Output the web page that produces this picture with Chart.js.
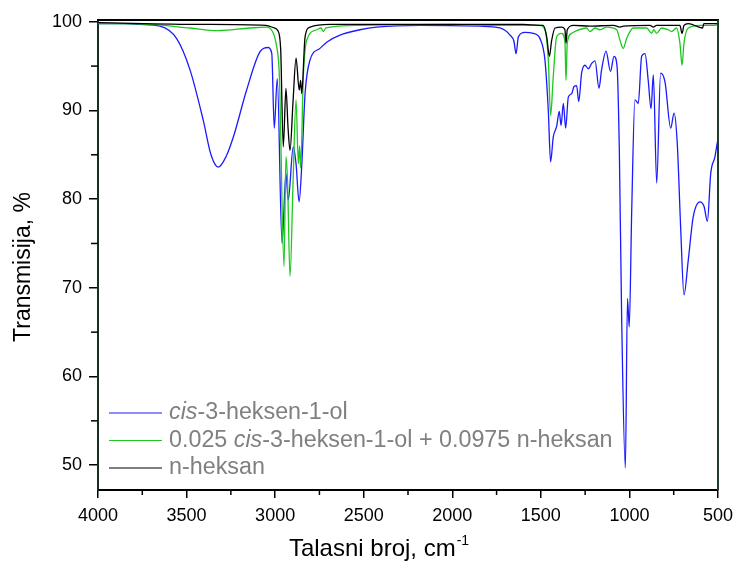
<!DOCTYPE html>
<html>
<head>
<meta charset="utf-8">
<script src="https://cdn.jsdelivr.net/npm/chart.js@4/dist/chart.umd.min.js"></script>
<style>
  body { margin: 0; background: #fff; }
  #wrap { width: 741px; height: 565px; position: relative; }
</style>
</head>
<body>
<div id="wrap"><canvas id="Ir-Chart"></canvas></div>
<script>
// spectra: wavenumber (cm-1) and transmission (%)
var seriesLabels = ['cis-3-heksen-1-ol', '0.025 cis-3-heksen-1-ol + 0.0975 n-heksan', 'n-heksan'];
var seriesColors = ['#1a1aff', '#1ec81e', '#000000'];

var cisWn = [4000, 3850, 3763, 3650, 3556, 3481, 3406, 3362, 3321, 3277, 3236, 3161, 3086, 3039, 3019, 3005, 2988, 2961, 2939, 2926, 2898, 2882, 2865, 2850, 2831, 2803, 2747, 2709, 2634, 2521, 2427, 2182, 1844, 1731, 1674, 1652, 1640, 1627, 1590, 1543, 1505, 1477, 1458, 1445, 1430, 1411, 1396, 1386, 1373, 1360, 1345, 1326, 1313, 1298, 1286, 1270, 1251, 1232, 1213, 1194, 1172, 1157, 1132, 1107, 1087, 1070, 1057, 1044, 1023, 1011, 1001, 987, 969, 950, 931, 912, 894, 878, 865, 846, 824, 799, 767, 748, 730, 711, 692, 668, 640, 602, 579, 560, 541, 517, 503];
var cisT = [99.8, 99.8, 99.7, 99.5, 98.1, 94.6, 88.9, 85.0, 83.6, 84.8, 87.0, 92.3, 96.6, 97.1, 96.4, 88.0, 93.6, 75.0, 82.9, 79.9, 85.9, 84.0, 79.7, 83.7, 91.9, 95.7, 97.0, 97.7, 98.5, 99.1, 99.4, 99.6, 99.5, 99.3, 98.5, 97.8, 96.4, 98.3, 98.8, 98.7, 98.1, 95.7, 90.0, 84.2, 87.0, 88.2, 89.9, 88.3, 90.8, 88.0, 91.5, 91.9, 92.7, 92.8, 91.0, 94.2, 95.1, 94.7, 95.3, 95.6, 92.5, 94.6, 96.7, 94.4, 96.1, 95.0, 85.5, 66.8, 49.7, 68.8, 65.6, 78.8, 91.2, 90.8, 96.1, 96.4, 93.4, 90.2, 94.0, 81.8, 94.2, 93.2, 88.0, 89.7, 86.3, 76.9, 69.2, 73.1, 78.0, 79.7, 79.2, 77.5, 82.9, 84.8, 86.5];

var mixWn = [4000, 3706, 3481, 3323, 3142, 3048, 3015, 2995, 2976, 2950, 2939, 2930, 2916, 2898, 2882, 2869, 2862, 2856, 2841, 2822, 2765, 2741, 2728, 2713, 2521, 2000, 1844, 1505, 1477, 1458, 1445, 1430, 1411, 1383, 1364, 1358, 1351, 1326, 1298, 1242, 1223, 1194, 1166, 1129, 1072, 1053, 1035, 1016, 978, 903, 875, 862, 847, 818, 781, 762, 734, 715, 703, 692, 668, 600, 525, 500];
var mixT = [99.8, 99.7, 99.3, 99.0, 99.3, 99.4, 98.9, 97.6, 93.8, 72.4, 84.8, 82.0, 71.3, 82.5, 91.2, 84.0, 86.0, 83.5, 93.8, 97.9, 99.1, 99.3, 98.9, 99.3, 99.6, 99.7, 99.6, 99.6, 99.1, 95.7, 89.4, 93.8, 98.3, 98.7, 97.7, 93.4, 97.6, 98.7, 99.0, 99.3, 98.9, 99.3, 99.1, 99.4, 99.1, 97.9, 97.0, 98.1, 99.3, 99.3, 98.7, 99.1, 98.7, 99.3, 99.1, 98.9, 99.3, 97.6, 95.1, 97.6, 99.3, 99.6, 99.6, 99.7];

var hexWn = [4000, 3419, 3052, 3005, 2985, 2969, 2954, 2939, 2927, 2916, 2899, 2882, 2864, 2856, 2850, 2831, 2803, 2690, 1600, 1505, 1487, 1467, 1452, 1439, 1420, 1383, 1364, 1358, 1351, 1317, 1223, 1091, 1053, 1035, 884, 865, 847, 715, 703, 692, 668, 587, 580, 500];
var hexT = [99.9, 99.7, 99.6, 99.3, 99.0, 97.0, 85.9, 92.5, 88.0, 85.5, 91.0, 95.9, 92.3, 93.4, 91.9, 98.3, 99.4, 99.7, 99.7, 99.6, 99.6, 98.3, 96.1, 97.9, 99.3, 99.4, 99.1, 97.6, 99.1, 99.6, 99.5, 99.6, 99.4, 99.5, 99.6, 99.4, 99.6, 99.6, 98.7, 99.6, 99.8, 99.3, 99.8, 99.8];

var xTickValues = [4000, 3500, 3000, 2500, 2000, 1500, 1000, 500];
var xMinorValues = [3750, 3250, 2750, 2250, 1750, 1250, 750];
var yTickValues = [50, 60, 70, 80, 90, 100];
var yMinorValues = [55, 65, 75, 85, 95];

var FONT = '"Liberation Sans", Arial, sans-serif';

function points(wn, t) {
    return wn.map(function (w, i) { return { x: w, y: t[i] }; });
}

function line(ctx, x1, y1, x2, y2) {
    ctx.beginPath();
    ctx.moveTo(x1, y1);
    ctx.lineTo(x2, y2);
    ctx.stroke();
}

// minor ticks, top/right frame, titles and the legend
var decor = {
    id: 'decor',
    afterDraw: function (chart) {
        var ctx = chart.ctx, a = chart.chartArea;
        var xs = chart.scales.x, ys = chart.scales.y;
        ctx.save();

        ctx.lineWidth = 2;
        ctx.strokeStyle = '#000';
        line(ctx, a.left - 1, a.top, a.right + 1, a.top);
        ctx.strokeStyle = '#1f3d2a';
        line(ctx, a.right, a.top, a.right, a.bottom);

        ctx.lineWidth = 1.5;
        ctx.strokeStyle = '#000';
        xMinorValues.forEach(function (v) {
            var px = xs.getPixelForValue(v);
            line(ctx, px, a.bottom, px, a.bottom + 5);
        });
        yMinorValues.forEach(function (v) {
            var py = ys.getPixelForValue(v);
            line(ctx, a.left - 7, py, a.left, py);
        });

        // x title with superscript
        ctx.fillStyle = '#000';
        ctx.textBaseline = 'alphabetic';
        ctx.textAlign = 'left';
        ctx.font = '24px ' + FONT;
        var main = 'Talasni broj, cm';
        var mw = ctx.measureText(main).width;
        ctx.font = '14px ' + FONT;
        var sup = '-1';
        var sw = ctx.measureText(sup).width;
        var x0 = 379 - (mw + sw + 1) / 2;
        ctx.font = '24px ' + FONT;
        ctx.fillText(main, x0, 556);
        ctx.font = '14px ' + FONT;
        ctx.fillText(sup, x0 + mw + 1, 545);

        // y title
        ctx.save();
        ctx.translate(30, 267);
        ctx.rotate(-Math.PI / 2);
        ctx.textAlign = 'center';
        ctx.font = '23px ' + FONT;
        ctx.fillText('Transmisija, %', 0, 0);
        ctx.restore();

        // legend, "cis" in italics
        ctx.textBaseline = 'middle';
        ctx.textAlign = 'left';
        seriesLabels.forEach(function (label, i) {
            var ly = 413 + i * 27.5;
            ctx.strokeStyle = seriesColors[i];
            ctx.lineWidth = 1.2;
            line(ctx, 109, ly, 162, ly);
            ctx.fillStyle = '#808080';
            var tx = 169;
            label.split(/(cis)/).forEach(function (part) {
                if (!part) return;
                ctx.font = (part === 'cis' ? 'italic ' : '') + '23.3px ' + FONT;
                ctx.fillText(part, tx, ly);
                tx += ctx.measureText(part).width;
            });
        });

        ctx.restore();
    }
};

window.onload = function () {
    var ctx = document.getElementById('Ir-Chart').getContext('2d');

    var spectra = new Chart(ctx, {
        type: 'line',
        data: {
            datasets: [
                {
                    label: seriesLabels[0],
                    data: points(cisWn, cisT),
                    borderColor: seriesColors[0],
                    borderWidth: 1.3,
                    order: 3
                },
                {
                    label: seriesLabels[1],
                    data: points(mixWn, mixT),
                    borderColor: seriesColors[1],
                    borderWidth: 1.3,
                    order: 2
                },
                {
                    label: seriesLabels[2],
                    data: points(hexWn, hexT),
                    borderColor: seriesColors[2],
                    borderWidth: 1.3,
                    order: 1
                }
            ]
        },
        options: {
            responsive: true,
            maintainAspectRatio: false,
            animation: false,
            layout: { padding: { top: 20, right: 23, left: 0, bottom: 0 } },
            elements: {
                point: { radius: 0 },
                line: { cubicInterpolationMode: 'monotone', fill: false }
            },
            plugins: {
                legend: { display: false },
                tooltip: { enabled: false }
            },
            scales: {
                x: {
                    type: 'linear',
                    reverse: true,
                    min: 500,
                    max: 4000,
                    afterBuildTicks: function (scale) {
                        scale.ticks = xTickValues.map(function (v) { return { value: v }; });
                    },
                    afterFit: function (scale) { scale.height = 75; },
                    grid: { drawOnChartArea: false, tickLength: 8, color: '#000', lineWidth: 1.5 },
                    border: { display: true, color: '#000', width: 2 },
                    ticks: {
                        color: '#000',
                        padding: 7,
                        maxRotation: 0,
                        font: { family: FONT, size: 18 },
                        callback: function (v) { return v; }
                    }
                },
                y: {
                    min: 47.2,
                    max: 100.2,
                    afterBuildTicks: function (scale) {
                        scale.ticks = yTickValues.map(function (v) { return { value: v }; });
                    },
                    afterFit: function (scale) { scale.width = 98; },
                    grid: { drawOnChartArea: false, tickLength: 9, color: '#000', lineWidth: 1.5 },
                    border: { display: true, color: '#163020', width: 2 },
                    ticks: {
                        color: '#000',
                        padding: 7,
                        font: { family: FONT, size: 18 },
                        callback: function (v) { return v; }
                    }
                }
            }
        },
        plugins: [decor]
    });
};
</script>
</body>
</html>
